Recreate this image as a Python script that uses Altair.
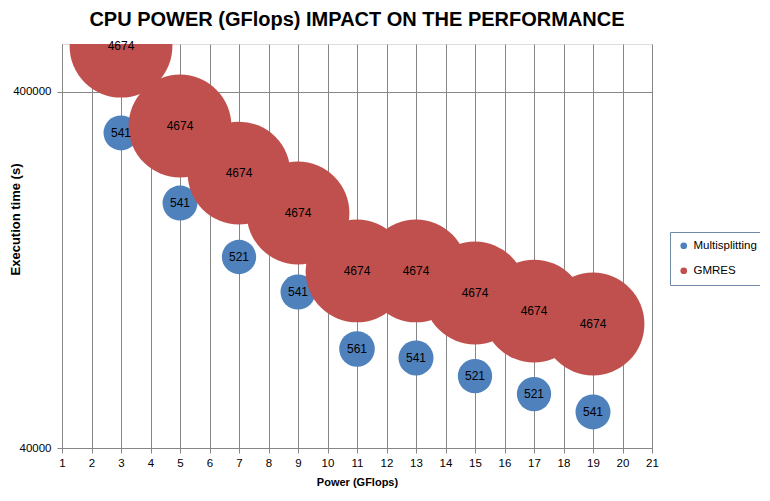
import altair as alt
import pandas as pd

power = [3, 5, 7, 9, 11, 13, 15, 17, 19]
multi_time = [307000, 195000, 137600, 109700, 75900, 71600, 63700, 56700, 50500]
multi_size = [541, 541, 521, 541, 561, 541, 521, 521, 541]
gmres_time = [538000, 321000, 236800, 182900, 125700, 125700, 109000, 97000, 89200]
gmres_size = [4674, 4674, 4674, 4674, 4674, 4674, 4674, 4674, 4674]
series = ["Multisplitting", "GMRES"]
colors = ["#4F81BD", "#C0504D"]
x_ticks = list(range(1, 22))
y_ticks = [40000, 400000]

rows = []
for p, t, s in zip(power, multi_time, multi_size):
    rows.append({"power": p, "time": t, "size": s, "series": "Multisplitting"})
for p, t, s in zip(power, gmres_time, gmres_size):
    rows.append({"power": p, "time": t, "size": s, "series": "GMRES"})
df = pd.DataFrame(rows)

FONT = "Liberation Sans"
GRID = "#868686"

x_enc = alt.X(
    "power:Q",
    scale=alt.Scale(domain=[1, 21], nice=False, zero=False),
    axis=alt.Axis(
        values=x_ticks, title="Power (GFlops)", grid=True, gridColor=GRID,
        domainColor=GRID, tickColor=GRID, tickSize=5, labelFontSize=11.5,
        labelFont=FONT, labelColor="#000000", labelPadding=4,
        titleFont=FONT, titleFontSize=11, titleFontWeight="bold",
        titleColor="#000000", titlePadding=8, labelFlush=False,
        labelOverlap=False, format="d",
    ),
)
y_enc = alt.Y(
    "time:Q",
    scale=alt.Scale(type="log", domain=[40000, 545600], nice=False, zero=False),
    axis=alt.Axis(
        values=y_ticks, format="d", title="Execution time (s)", grid=True,
        gridColor=GRID, domainColor=GRID, tickColor=GRID, tickSize=5,
        labelFontSize=11.5, labelFont=FONT, labelColor="#000000", labelPadding=6,
        titleFont=FONT, titleFontSize=13, titleFontWeight="bold",
        titleColor="#000000", titleX=-40, titleY=175, labelOverlap=False,
    ),
)
size_enc = alt.Size(
    "size:Q", scale=alt.Scale(domain=[0, 4674], range=[0, 10568], zero=True), legend=None
)
color_enc = alt.Color(
    "series:N",
    scale=alt.Scale(domain=series, range=colors),
    legend=alt.Legend(
        title=None, orient="none", legendX=608, legendY=188, direction="vertical",
        strokeColor="#6F88A8", padding=8, rowPadding=12, symbolType="circle",
        symbolSize=45, symbolStrokeWidth=0, labelFont=FONT, labelFontSize=11.5,
        labelColor="#000000", symbolOpacity=1, labelOffset=4,
    ),
)

base = alt.Chart(df)
blue = base.transform_filter(alt.datum.series == "Multisplitting").mark_circle(
    opacity=1, clip=True
).encode(x=x_enc, y=y_enc, size=size_enc, color=color_enc)
red = base.transform_filter(alt.datum.series == "GMRES").mark_circle(
    opacity=1, clip=True
).encode(x=x_enc, y=y_enc, size=size_enc, color=color_enc)
labels = base.mark_text(font=FONT, fontSize=12, color="#000000").encode(
    x=x_enc, y=y_enc, text="size:Q"
)

chart = alt.layer(blue, red, labels).properties(
    width=590,
    height=404,
    autosize=alt.AutoSizeParams(type="none"),
    padding={"left": 54, "top": 36, "right": 108, "bottom": 45},
    title=alt.Title(
        "CPU POWER (GFlops) IMPACT ON THE PERFORMANCE", font=FONT, fontSize=20,
        fontWeight="bold", color="#000000", offset=10, anchor="middle",
    ),
).configure_view(strokeWidth=0).configure_axis(
    labelOverlap=False
).configure(background="#FFFFFF")

chart.save("out.html", embed_options={"renderer": "svg", "actions": False})
